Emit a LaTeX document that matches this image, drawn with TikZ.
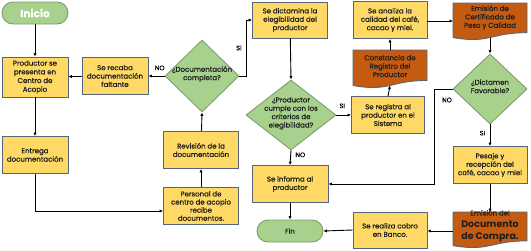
\documentclass[tikz,border=0pt]{standalone}
\usepackage{fontspec}
\setmainfont{Poppins}[FakeBold=0.6]
\newfontfamily\boldfam{Poppins Bold}
\usetikzlibrary{shapes.geometric,arrows.meta}
\definecolor{yel}{HTML}{FFD966}
\definecolor{grn}{HTML}{A9D18E}
\definecolor{org}{HTML}{C55A11}
\definecolor{bdr}{HTML}{56657A}
\definecolor{gbdr}{HTML}{7F9C6E}
\definecolor{txt}{HTML}{1E1E1E}
\newcommand\ztext[1]{\smash{\makebox[0pt]{\begin{tabular}{@{}c@{}}#1\end{tabular}}}}
\newcommand\docshape[3]{%
  \draw[docline] (#1-37,-#2) -- (#1+37,-#2) -- (#1+37,{-(#2+0.802*(#3-#2))})
   .. controls (#1,{-(#2+0.802*(#3-#2))}) and (#1,{-(#2+1.107*(#3-#2))}) ..
   (#1-37,{-(#2+0.934*(#3-#2))}) -- cycle;}
\begin{document}
\begin{tikzpicture}[x=1pt,y=1pt,
 every node/.style={font=\fontsize{7}{8.4}\selectfont,text=txt},
 proc/.style={rectangle,draw=bdr,fill=yel,line width=0.9pt,align=center,inner sep=0pt},
 term/.style={rectangle,rounded corners=11pt,draw=gbdr,fill=grn,line width=0.9pt,minimum width=66pt,minimum height=22pt,inner sep=0pt},
 dec/.style={diamond,draw=gbdr,fill=grn,line width=0.9pt,inner sep=0pt},
 doctext/.style={align=center,inner sep=0pt},
 docline/.style={draw=bdr,fill=org,line width=0.9pt},
 arr/.style={-{Latex[length=3.4pt,width=3.2pt]},line width=0.9pt,black},
 lbl/.style={font=\fontsize{6.5}{7}\selectfont,text=black}
]
\useasboundingbox (0,0) rectangle (531,-250);
% terminals
\node[term,font=\fontsize{10.5}{12}\selectfont\bfseries,text=white] (inicio) at (35,-13) {Inicio};
\node[term] (fin) at (290,-231) {Fin};
% processes
\node[proc,minimum width=66pt,minimum height=40pt,font=\fontsize{7}{8.7}\selectfont] (prod) at (35,-77) {Productor se\\presenta en\\Centro de\\Acopio};
\node[proc,minimum width=66pt,minimum height=37pt] (recaba) at (115,-76) {Se recaba\\documentación\\faltante};
\node[proc,minimum width=66pt,minimum height=37pt] (entrega) at (35,-155) {Entrega\\documentación};
\node[proc,minimum width=75pt,minimum height=37pt] (revision) at (201,-150) {Revisión de la\\documentación};
\node[proc,minimum width=75pt,minimum height=37pt,font=\fontsize{7}{8.1}\selectfont] (personal) at (201,-206) {Personal de\\centro de acopio\\recibe\\documentos.};
\node[proc,minimum width=75pt,minimum height=36pt] (dict) at (290,-20) {Se dictamina la\\elegibilidad del\\productor};
\node[proc,minimum width=76pt,minimum height=37pt] (informa) at (290,-184) {Se informa al\\productor};
\node[proc,minimum width=73pt,minimum height=37pt] (registra) at (388,-115) {Se registra al\\productor en el\\Sistema};
\node[proc,minimum width=74pt,minimum height=37pt] (analiza) at (390,-20) {Se analiza la\\calidad del café,\\cacao y miel.};
\node[proc,minimum width=74pt,minimum height=37pt] (pesaje) at (490,-165) {Pesaje y\\recepción del\\café, cacao y miel};
\node[proc,minimum width=74pt,minimum height=36pt] (cobro) at (390,-230) {Se realiza cobro\\en Banco.};
% decisions
\node[dec,minimum width=74pt,minimum height=72pt] (d1) at (202,-76) {\ztext{¿Documentación\\completa?}};
\node[dec,minimum width=90pt,minimum height=70pt] (d2) at (291,-115) {\ztext{¿Productor\\cumple con los\\criterios de\\elegibilidad?}};
\node[dec,minimum width=74pt,minimum height=70pt] (d3) at (490,-89) {\ztext{¿Dictamen\\Favorable?}};
% documents
\docshape{390}{50}{88}
\node[doctext] (const) at (390,-66) {Constancia de\\Registro del\\Productor};
\docshape{490}{3}{40}
\node[doctext] (cert) at (490,-17.5) {Emisión de\\Certificado de\\Peso y Calidad};
\docshape{490}{212}{248}
\node[doctext,font=\fontsize{9.5}{12}\selectfont] (compra) at (490,-226) {{\fontsize{7}{8}\selectfont Emisión del}\\{\boldfam Documento}\\{\boldfam de Compra.}};
\coordinate (constb) at (390,-85.5);
\coordinate (constt) at (390,-50);
\coordinate (certw) at (453,-21);
\coordinate (certb) at (490,-37.5);
\coordinate (compran) at (490,-212);
\coordinate (compraw) at (453,-231);
% connectors
\draw[arr] (inicio) -- (prod);
\draw[arr] (prod) -- (entrega);
\draw[arr] (entrega.south) |- ([yshift=-5pt]personal.west);
\draw[arr] (personal) -- (revision);
\draw[arr] (revision) -- (d1.south);
\draw[arr] (d1.west) -- (recaba.east) node[lbl,pos=0.3,above=2pt] {NO};
\draw[arr] (recaba) -- (prod);
\draw[arr] (d1.east) -- ++(7,0) |- (dict.west) node[lbl,pos=0.25,left=1pt] {SI};
\draw[arr] (dict) -- (d2.north);
\draw[arr] (d2.east) -- (registra.west) node[lbl,pos=0.4,above=3pt] {SI};
\draw[arr] (d2.south) -- (informa.north) node[lbl,pos=0.3,right=1pt] {NO};
\draw[arr] (informa) -- (fin);
\draw[arr] (registra.north) -- (constb);
\draw[arr] (constt) -- (analiza.south);
\draw[arr] (analiza.east |- certw) -- (certw);
\draw[arr] (certb) -- (d3.north);
\draw[arr] (d3.south) -- (pesaje.north) node[lbl,pos=0.4,left=1pt] {SI};
\draw[arr] (d3.west) -- ++(-18,0) coordinate (nocorner) |- (informa.east);
\node[lbl] at (447,-100) {NO};
\draw[arr] (pesaje.south) -- (compran);
\draw[arr] (compraw) -- (cobro.east |- compraw);
\draw[arr] (cobro.west) -- (fin.east);
\end{tikzpicture}
\end{document}
